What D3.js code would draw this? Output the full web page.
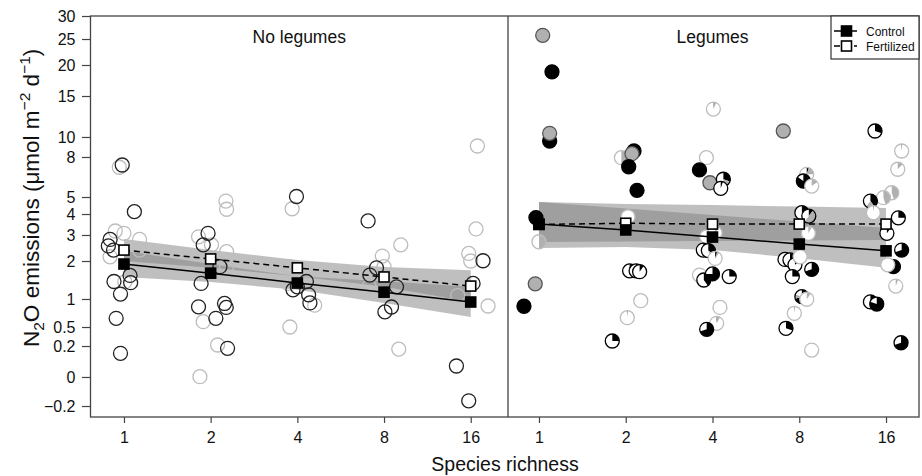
<!DOCTYPE html>
<html>
<head>
<meta charset="utf-8">
<script src="https://cdn.jsdelivr.net/npm/d3@7"></script>
<style>
  body { margin: 0; background: #fff; }
  svg text { font-family: "Liberation Sans", Arial, sans-serif; fill: #111; }
</style>
</head>
<body>
<svg id="chart" width="922" height="476"></svg>
<script>
// ---- data ----
var richness = [1, 2, 4, 8, 16];
var yTicks = [-0.2, 0, 0.2, 0.5, 1, 2, 3, 4, 5, 8, 10, 15, 20, 25, 30];
var yTickLabels = ["\u22120.2", "0", "0.2", "0.5", "1", "2", "3", "4", "5", "8", "10", "15", "20", "25", "30"];
var panelTitles = ["No legumes", "Legumes"];
var legendLabels = ["Control", "Fertilized"];

// model means and confidence bands, per richness level
var noLegCtrlMean = [1.92, 1.68, 1.42, 1.18, 0.946];
var noLegFertMean = [2.42, 2.08, 1.82, 1.58, 1.34];
var noLegCtrlLo = [1.58, 1.45, 1.24, 0.93, 0.68];
var noLegCtrlHi = [2.39, 1.92, 1.60, 1.47, 1.32];
var noLegFertLo = [2.0, 1.82, 1.60, 1.32, 0.946];
var noLegFertHi = [2.85, 2.42, 2.04, 1.84, 1.76];

var legCtrlMean = [3.52, 3.24, 2.92, 2.65, 2.39];
var legFertMean = [3.5, 3.56, 3.52, 3.52, 3.52];
var legCtrlLo = [2.5, 2.54, 2.42, 2.11, 1.82];
var legCtrlHi = [4.71, 4.32, 3.95, 3.64, 3.33];
var legFertLo = [2.73, 2.75, 2.77, 2.79, 2.81];
var legFertHi = [4.71, 4.59, 4.53, 4.44, 4.35];

// plots without legumes: [richness, jitter (log2 units), N2O, treatment]
var noLegPoints = [
  [1,-0.054,7.23,"F"],[1,-0.10,3.19,"F"],[1,0.0,3.08,"F"],[1,0.18,2.83,"F"],[1,0.18,2.42,"F"],[1,-0.16,2.16,"F"],[1,0.01,1.45,"F"],
  [2,0.176,4.76,"F"],[2,0.184,4.28,"F"],[2,-0.14,2.93,"F"],[2,0.01,2.62,"F"],[2,0.184,2.36,"F"],[2,0.184,1.85,"F"],[2,-0.086,0.595,"F"],[2,0.08,0.216,"F"],[2,-0.124,0.002,"F"],
  [4,-0.06,4.31,"F"],[4,-0.09,1.85,"F"],[4,-0.106,1.41,"F"],[4,0.2,0.89,"F"],[4,-0.086,0.5,"F"],
  [8,0.193,2.62,"F"],[8,-0.02,2.19,"F"],[8,0.0,1.85,"F"],[8,-0.172,1.32,"F"],[8,0.17,0.18,"F"],
  [16,0.077,9.1,"F"],[16,0.061,3.29,"F"],[16,-0.023,2.29,"F"],[16,0.0,2.0,"F"],[16,-0.15,1.09,"F"],[16,0.2,0.875,"F"],
  [1,-0.02,7.4,"C"],[1,0.12,4.14,"C"],[1,-0.16,2.83,"C"],[1,-0.18,2.58,"C"],[1,-0.12,2.42,"C"],[1,-0.115,1.46,"C"],[1,0.07,1.62,"C"],[1,0.077,1.43,"C"],[1,-0.04,1.13,"C"],[1,-0.09,0.655,"C"],[1,-0.04,0.153,"C"],
  [2,-0.03,3.08,"C"],[2,-0.086,2.62,"C"],[2,0.107,1.85,"C"],[2,-0.11,1.41,"C"],[2,-0.14,0.86,"C"],[2,0.16,0.92,"C"],[2,0.18,0.85,"C"],[2,0.06,0.655,"C"],[2,0.195,0.185,"C"],
  [4,-0.01,5.04,"C"],[4,-0.05,1.24,"C"],[4,0.0,1.32,"C"],[4,0.105,1.46,"C"],[4,0.13,1.11,"C"],[4,0.145,0.93,"C"],
  [8,-0.184,3.67,"C"],[8,-0.087,1.82,"C"],[8,-0.164,1.63,"C"],[8,0.144,1.32,"C"],[8,0.086,0.857,"C"],[8,0.01,0.77,"C"],
  [16,0.142,2.01,"C"],[16,0.027,1.41,"C"],[16,-0.165,0.071,"C"],[16,-0.023,-0.164,"C"]
];

// plots with legumes: [richness, jitter, N2O, treatment, black share, grey share]
var legPoints = [
  [1,0.15,18.9,"C",1,0],[1,0.043,25.8,"C",0,1],[1,0.123,9.6,"C",1,0],[1,0.123,10.45,"C",0,1],[1,-0.035,3.83,"C",1,0],
  [1,0,2.74,"F",0,0.5],[1,-0.043,1.4,"C",0,1],[1,-0.173,0.87,"C",1,0],
  [2,-0.05,7.95,"F",0,0.5],[2,0.095,8.6,"C",1,0],[2,0.072,8.33,"C",0,1],[2,0.034,7.27,"C",1,0],[2,0.13,5.5,"C",1,0],
  [2,0.026,3.87,"F",0,0],[2,0.045,1.74,"C",0.1,0.05],[2,0.12,1.74,"C",0.25,0.15],[2,0.16,1.72,"C",0.1,0],
  [2,0.173,0.97,"F",0,0],[2,0.018,0.666,"F",0.01,0],[2,-0.155,0.279,"C",0.25,0],
  [4,0.01,13.4,"F",0.01,0.06],[4,-0.07,7.95,"F",0,0],[4,-0.15,7.03,"C",1,0],[4,-0.03,6.07,"C",0,1],
  [4,0.125,6.33,"C",0.3,0.2],[4,0.095,5.65,"C",0.05,0],[4,-0.067,2.93,"F",0,0],[4,0.03,3.1,"F",0,0.1],
  [4,-0.106,2.42,"C",0.1,0],[4,-0.048,2.4,"C",0.35,0.1],[4,0.03,2.1,"F",0.05,0.05],[4,-0.15,1.63,"F",0,0],
  [4,-0.1,1.5,"C",0.4,0],[4,0.0,1.66,"C",0.75,0],[4,0.193,1.59,"C",0.25,0],[4,0.086,0.85,"F",0,0],
  [4,0.048,0.566,"F",0.02,0.06],[4,-0.067,0.464,"C",0.7,0],
  [8,-0.184,10.73,"C",0,1],[8,0.086,6.7,"F",0.05,0.2],[8,0.047,6.2,"C",0.85,0],[8,0.143,5.82,"F",0,0.15],
  [8,0.03,4.08,"C",0.25,0.25],[8,0.11,3.9,"C",0.1,0.5],[8,0.105,3.08,"F",0,0.08],[8,-0.165,2.06,"C",0,0],
  [8,-0.107,2.04,"C",0.3,0],[8,-0.05,1.9,"C",0.15,0],[8,0.01,2.16,"F",0,0],[8,-0.08,1.59,"C",0.25,0],
  [8,0.143,1.78,"C",0.7,0],[8,0.03,1.06,"C",0.7,0.1],[8,0.086,0.995,"F",0,0.1],[8,-0.057,0.745,"F",0.01,0],
  [8,-0.153,0.48,"C",0.3,0],[8,0.143,0.174,"F",0,0],
  [16,-0.127,10.73,"C",0.3,0],[16,0.18,8.6,"F",0.01,0],[16,0.135,7.08,"F",0,0.12],[16,0.066,5.32,"F",0,0.45],
  [16,-0.03,4.96,"F",0,0.45],[16,-0.18,4.76,"C",0.4,0.2],[16,-0.146,4.08,"F",0.01,0],[16,0.142,3.82,"C",0.25,0],
  [16,0.01,3.08,"C",0.1,0],[16,0.18,2.42,"C",0.7,0],[16,0.085,1.85,"C",0.65,0],[16,0.02,1.9,"F",0,0],
  [16,0.112,1.34,"F",0,0.06],[16,-0.18,0.95,"C",0.5,0],[16,-0.107,0.91,"C",0.8,0],[16,0.173,0.252,"C",0.7,0]
];

// ---- layout ----
var svg = d3.select("#chart");
var plotTop = 16, plotBottom = 417;
var left = 90.5, mid = 508, right = 919;
var grey = "#b0b0b0", lightEdge = "#bdbdbd", axisCol = "#444";

// the y axis is a stretched (pseudo-log) scale; tick spots as share of plot height from top
var yTickFrac = [0.9726, 0.9002, 0.823, 0.7756, 0.7057, 0.611, 0.5461, 0.4938, 0.4514, 0.3516, 0.3017, 0.1995, 0.1222, 0.0574, 0];
var y = d3.scaleLinear()
  .domain(yTicks)
  .range(yTickFrac.map(function (f) { return plotTop + f * (plotBottom - plotTop); }));

var xNoLeg = d3.scaleLog().base(2).domain([Math.pow(2, -0.386), Math.pow(2, 4.43)]).range([left, mid]);
var xLeg = d3.scaleLog().base(2).domain([Math.pow(2, -0.357), Math.pow(2, 4.38)]).range([mid, right]);

var jx = function (scale, r, j) { return scale(r * Math.pow(2, j)); };

// ---- bands ----
var drawBand = function (scale, lo, hi) {
  var area = d3.area()
    .x(function (d, i) { return scale(richness[i]); })
    .y0(function (d, i) { return y(lo[i]); })
    .y1(function (d, i) { return y(hi[i]); });
  svg.append("path")
    .attr("d", area(richness))
    .attr("fill", "#808080")
    .attr("fill-opacity", 0.5);
};
drawBand(xNoLeg, noLegFertLo, noLegFertHi);
drawBand(xNoLeg, noLegCtrlLo, noLegCtrlHi);
drawBand(xLeg, legFertLo, legFertHi);
drawBand(xLeg, legCtrlLo, legCtrlHi);

// ---- points, no legumes ----
noLegPoints.forEach(function (p) {
  svg.append("circle")
    .attr("cx", jx(xNoLeg, p[0], p[1]))
    .attr("cy", y(p[2]))
    .attr("r", 7)
    .attr("fill", "none")
    .attr("stroke", p[3] == "C" ? "#222" : lightEdge)
    .attr("stroke-width", 1.3);
});

// ---- pie points, legumes ----
var arc = d3.arc().innerRadius(0).outerRadius(7);
legPoints.forEach(function (p) {
  var g = svg.append("g")
    .attr("transform", "translate(" + jx(xLeg, p[0], p[1]) + "," + y(p[2]) + ")");
  g.append("circle").attr("r", 7).attr("fill", "#fff");
  var b = p[4] * 2 * Math.PI, gr = p[5] * 2 * Math.PI;
  if (b > 0) g.append("path").attr("d", arc({startAngle: 0, endAngle: b})).attr("fill", "#000");
  if (gr > 0) g.append("path").attr("d", arc({startAngle: b, endAngle: b + gr})).attr("fill", grey);
  g.append("circle").attr("r", 7)
    .attr("fill", "none")
    .attr("stroke", p[3] == "C" ? (p[5] >= 1 ? "#555" : "#000") : lightEdge)
    .attr("stroke-width", 1.3);
});

// ---- mean lines and squares ----
var drawMeans = function (scale, vals, dashed, fill) {
  var line = d3.line()
    .x(function (d, i) { return scale(richness[i]); })
    .y(function (d) { return y(d); });
  svg.append("path")
    .attr("d", line(vals))
    .attr("fill", "none")
    .attr("stroke", "#000")
    .attr("stroke-width", 1.5)
    .attr("stroke-dasharray", dashed ? "6,4" : null);
  vals.forEach(function (v, i) {
    svg.append("rect")
      .attr("x", scale(richness[i]) - 5)
      .attr("y", y(v) - 5)
      .attr("width", 10).attr("height", 10)
      .attr("fill", fill)
      .attr("stroke", "#000")
      .attr("stroke-width", 1.6);
  });
};
drawMeans(xNoLeg, noLegFertMean, true, "#fff");
drawMeans(xNoLeg, noLegCtrlMean, false, "#000");
drawMeans(xLeg, legFertMean, true, "#fff");
drawMeans(xLeg, legCtrlMean, false, "#000");

// ---- frame ----
svg.append("rect")
  .attr("x", left).attr("y", plotTop)
  .attr("width", right - left).attr("height", plotBottom - plotTop)
  .attr("fill", "none").attr("stroke", axisCol).attr("stroke-width", 1.3);
svg.append("line")
  .attr("x1", mid).attr("x2", mid).attr("y1", plotTop).attr("y2", plotBottom)
  .attr("stroke", axisCol).attr("stroke-width", 1.3);

// ---- axes ----
var styleAxis = function (g) {
  g.select(".domain").remove();
  g.selectAll(".tick line").attr("stroke", axisCol).attr("stroke-width", 1.2);
  g.selectAll(".tick text").attr("font-size", 16).attr("fill", "#111")
    .attr("font-family", "Liberation Sans, Arial, sans-serif");
};
svg.append("g")
  .attr("transform", "translate(" + left + ",0)")
  .call(d3.axisLeft(y).tickValues(yTicks).tickFormat(function (d, i) { return yTickLabels[i]; })
    .tickSize(8.5).tickPadding(6.5))
  .call(styleAxis);
[xNoLeg, xLeg].forEach(function (sc) {
  svg.append("g")
    .attr("transform", "translate(0," + plotBottom + ")")
    .call(d3.axisBottom(sc).tickValues(richness).tickFormat(d3.format("d"))
      .tickSize(6).tickPadding(8.5))
    .call(styleAxis);
});

// ---- titles ----
svg.append("text").attr("x", (left + mid) / 2).attr("y", 42.5)
  .attr("text-anchor", "middle").attr("font-size", 17.5).text(panelTitles[0]);
svg.append("text").attr("x", (mid + right) / 2 - 1).attr("y", 42.5)
  .attr("text-anchor", "middle").attr("font-size", 17.5).text(panelTitles[1]);

svg.append("text").attr("x", 505).attr("y", 470.5)
  .attr("text-anchor", "middle").attr("font-size", 19.5).text("Species richness");

// y title reads bottom to top, starting near the -0.2 tick
var yt = svg.append("text")
  .attr("transform", "translate(38.5,347) rotate(-90)")
  .attr("text-anchor", "start")
  .attr("font-size", 22.5);
yt.append("tspan").text("N");
yt.append("tspan").attr("font-size", 15.5).attr("dy", 5.5).text("2");
yt.append("tspan").attr("dy", -5.5).text("O emissions (\u03bcmol m");
yt.append("tspan").attr("font-size", 15.5).attr("dy", -9).text("\u22122");
yt.append("tspan").attr("dy", 9).text(" d");
yt.append("tspan").attr("font-size", 15.5).attr("dy", -9).text("\u22121");
yt.append("tspan").attr("dy", 9).text(")");

// ---- legend ----
var lg = svg.append("g");
lg.append("rect").attr("x", 831).attr("y", plotTop).attr("width", right - 831).attr("height", 43)
  .attr("fill", "#fff").attr("stroke", "#333").attr("stroke-width", 1.2);
[["#000", null], ["#fff", "6,4"]].forEach(function (s, i) {
  var ly = 31 + i * 15;
  lg.append("line").attr("x1", 834).attr("x2", 857).attr("y1", ly).attr("y2", ly)
    .attr("stroke", "#000").attr("stroke-width", 1.5).attr("stroke-dasharray", s[1]);
  lg.append("rect").attr("x", 841.5).attr("y", ly - 5).attr("width", 10).attr("height", 10)
    .attr("fill", s[0]).attr("stroke", "#000").attr("stroke-width", 1.6);
  lg.append("text").attr("x", 866).attr("y", ly + 4.5).attr("font-size", 12).text(legendLabels[i]);
});
</script>
</body>
</html>
